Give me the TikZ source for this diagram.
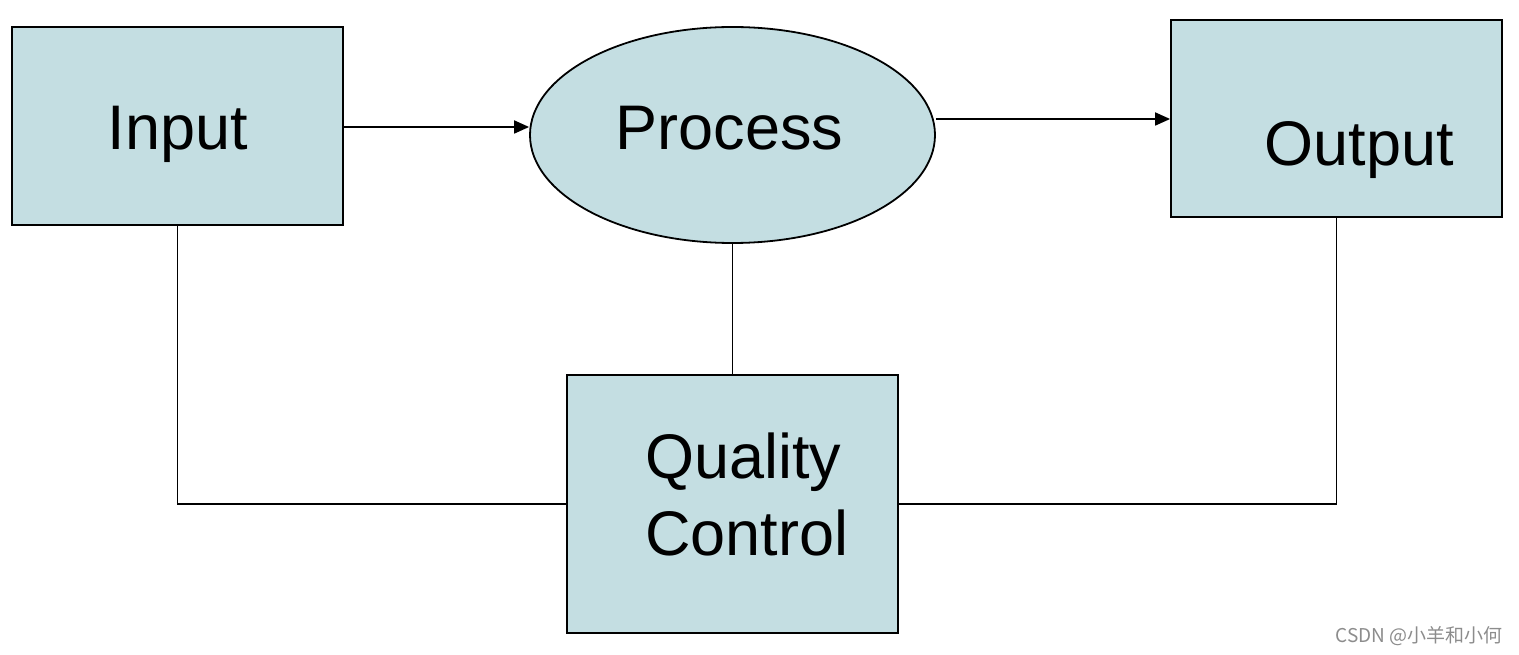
\documentclass[tikz,border=0pt]{standalone}
\usepackage{fontspec}
\setmainfont{Liberation Sans}
\newfontfamily\cjkfont{Noto Sans CJK SC}
\usetikzlibrary{shapes.geometric,arrows.meta}
\definecolor{boxfill}{HTML}{C4DEE2}
\tikzset{
  blockbox/.style={draw=black, line width=1.8pt, fill=boxfill, inner sep=0pt},
  conn/.style={draw=black, line width=1.8pt},
  arr/.style={conn, -{Triangle[length=15pt,width=13pt]}},
  lbl/.style={font=\fontsize{63}{77}\selectfont, inner sep=0pt, anchor=base},
  lblw/.style={font=\fontsize{63}{77}\selectfont, inner sep=0pt, anchor=base west},
}
\begin{document}
\begin{tikzpicture}[x=1pt,y=-1pt]
\useasboundingbox (0,0) rectangle (1519,655);
\node[blockbox, minimum width=331pt, minimum height=198pt] (in) at (177.5,126) {};
\node[blockbox, ellipse, minimum width=405pt, minimum height=216pt] (proc) at (732.5,135) {};
\node[blockbox, minimum width=331pt, minimum height=197pt] (out) at (1336.5,118.5) {};
\node[blockbox, minimum width=331pt, minimum height=258pt] (qc) at (732.5,504) {};
\node[lbl] (tin) at (178,150) {Input};
\node[lbl] (tproc) at (729.5,150) {Process};
\node[lbl] (tout) at (1359,166) {Output};
\node[lblw] (tq) at (645,478) {Quality};
\node[lblw] (tc) at (645,555) {Control};
\draw[arr] (in.east |- 0,127) -- (proc.west |- 0,127);
\draw[arr] (proc.east |- 0,119) -- (out.west |- 0,119);
\draw[conn] (proc.south) -- (qc.north);
\draw[conn] (in.south) |- (qc.west);
\draw[conn] (out.south) |- (qc.east);
\node[font=\cjkfont\fontsize{19}{19}\selectfont, text=black!45, anchor=base east, inner sep=0pt] (wm) at (1503,642) {CSDN @小羊和小何};
\end{tikzpicture}
\end{document}
